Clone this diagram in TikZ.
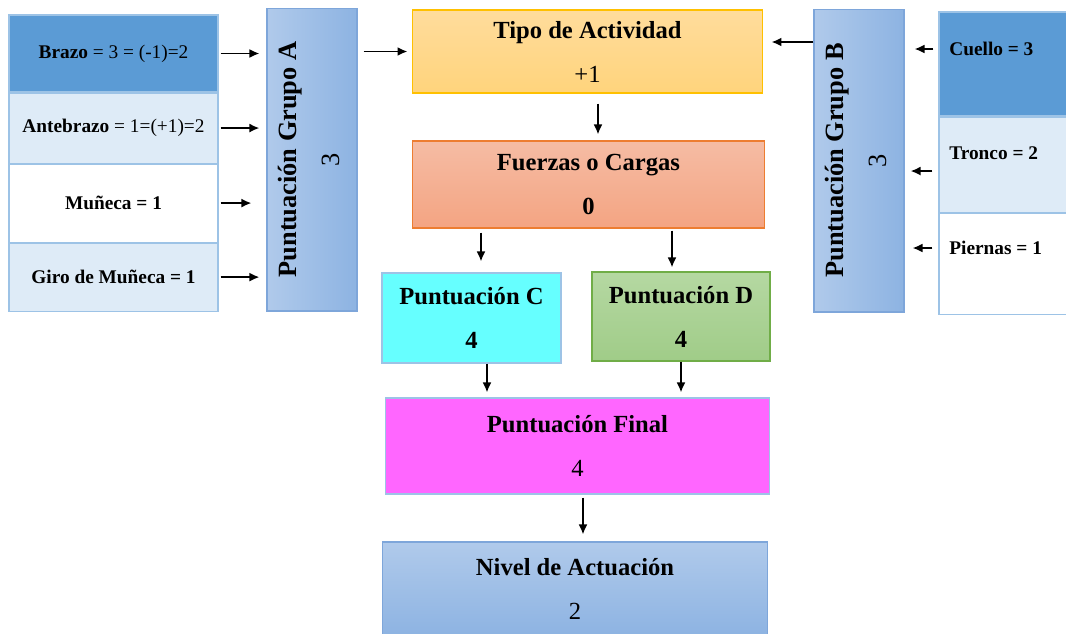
\documentclass[tikz,border=0pt]{standalone}
\usepackage{fontspec}
\setmainfont{Liberation Serif}
\usetikzlibrary{arrows.meta,positioning}
\definecolor{rowdark}{HTML}{5B9BD5}
\definecolor{rowlight}{HTML}{DEEBF7}
\definecolor{rowline}{HTML}{9DC3E6}
\definecolor{groupleft}{HTML}{B0CAEB}
\definecolor{groupright}{HTML}{8DB3E2}
\definecolor{groupline}{HTML}{7EA6DA}
\definecolor{tipotop}{HTML}{FFDC9C}
\definecolor{tipobot}{HTML}{FFD47C}
\definecolor{tipoline}{HTML}{FFC000}
\definecolor{fuerzatop}{HTML}{F5BCA4}
\definecolor{fuerzabot}{HTML}{F4A482}
\definecolor{fuerzaline}{HTML}{ED7D31}
\definecolor{cfill}{HTML}{66FFFF}
\definecolor{dtop}{HTML}{B5D8A2}
\definecolor{dbot}{HTML}{A0CC88}
\definecolor{dline}{HTML}{70AD47}
\definecolor{finalfill}{HTML}{FF66FF}

\begin{document}
\begin{tikzpicture}[
    x=0.02cm, y=-0.02cm,
    every node/.style={font=\fontsize{14}{25}\selectfont},
    row/.style={draw=rowline, line width=0.6pt, minimum width=4.18cm, align=center, inner sep=0pt, font=\fontsize{11}{13}\selectfont},
    rrow/.style={draw=rowline, line width=0.6pt, minimum width=2.62cm, inner sep=0pt},
    rlabel/.style={anchor=west, inner sep=0pt, font=\fontsize{11}{13}\selectfont\bfseries},
    group/.style={draw=groupline, line width=0.6pt, left color=groupleft, right color=groupright, minimum width=1.8cm, minimum height=6.06cm},
    grouptext/.style={rotate=90, align=center, font=\fontsize{15}{24}\selectfont},
    stage/.style={draw, line width=0.6pt, align=center, inner sep=0pt},
    flow/.style={-{Latex[length=2mm,width=1.8mm]}, line width=1.1pt}
]
\path[use as bounding box, fill=white] (0,0) rectangle (1066,633);

% left block
\node[row, fill=rowdark, minimum height=1.54cm] (brazo) at (113.5,53.5) {\textbf{Brazo} = 3 = (-1)=2};
\node[row, fill=rowlight, minimum height=1.40cm, below=0pt of brazo] (antebrazo) {\textbf{Antebrazo} = 1=(+1)=2};
\node[row, fill=white, minimum height=1.56cm, below=0pt of antebrazo] (muneca) {\textbf{Muñeca = 1}};
\node[row, fill=rowlight, minimum height=1.36cm, below=0pt of muneca] (giro) {\textbf{Giro de Muñeca = 1}};

\node[group] (grupoA) at (312,159.5) {};
\node[grouptext] (grupoAtext) at ([xshift=-0.06cm]grupoA.center) {\textbf{Puntuación Grupo A}\\3};

% right block
\node[rrow, fill=rowdark, minimum height=2.08cm] (cuello) at (1004.5,64) {};
\node[rrow, fill=rowlight, minimum height=1.90cm, below=0pt of cuello] (tronco) {};
\node[rrow, fill=white, minimum height=2.02cm, below=0pt of tronco] (piernas) {};
\node[rlabel] (cuellolbl) at (949,49) {Cuello = 3};
\node[rlabel] (troncolbl) at (949,153) {Tronco = 2};
\node[rlabel] (piernaslbl) at (949,248) {Piernas = 1};

\node[group] (grupoB) at (859,160.5) {};
\node[grouptext] (grupoBtext) at ([xshift=-0.06cm]grupoB.center) {\textbf{Puntuación Grupo B}\\3};

% middle column
\node[stage, draw=tipoline, top color=tipotop, bottom color=tipobot, minimum width=7.02cm, minimum height=1.66cm] (tipo) at (587.5,51.5) {\textbf{Tipo de Actividad}\\+1};
\node[stage, draw=fuerzaline, top color=fuerzatop, bottom color=fuerzabot, minimum width=7.06cm, minimum height=1.74cm] (fuerzas) at (588.5,184.5) {\textbf{Fuerzas o Cargas}\\\textbf{0}};
\node[stage, draw=rowline, fill=cfill, minimum width=3.58cm, minimum height=1.80cm] (puntC) at (471.5,318) {\textbf{Puntuación C}\\\textbf{4}};
\node[stage, draw=dline, top color=dtop, bottom color=dbot, minimum width=3.56cm, minimum height=1.78cm] (puntD) at (681,316.5) {\textbf{Puntuación D}\\\textbf{4}};
\node[stage, draw=rowline, fill=finalfill, minimum width=7.70cm, minimum height=1.92cm] (final) at (577.5,446) {\textbf{Puntuación Final}\\4};
\node[stage, draw=groupline, top color=groupleft, bottom color=groupright, minimum width=7.72cm, minimum height=1.88cm] (nivel) at (575,589) {\textbf{Nivel de Actuación}\\2};

\draw[flow, shorten <=0.04cm, shorten >=0.14cm] (brazo.east) -- (brazo.east -| grupoA.west);
\draw[flow, shorten <=0.04cm, shorten >=0.14cm] (antebrazo.east) -- (antebrazo.east -| grupoA.west);
\draw[flow, shorten <=0.04cm, shorten >=0.30cm] (muneca.east) -- (muneca.east -| grupoA.west);
\draw[flow, shorten <=0.04cm, shorten >=0.14cm] (giro.east) -- (giro.east -| grupoA.west);
\draw[flow, shorten <=0.12cm, shorten >=0.08cm] (grupoA.east |- tipo.west) -- (tipo.west);
\draw[flow, shorten >=0.16cm] ([yshift=0.19cm]tipo.east -| grupoB.west) -- ([yshift=0.19cm]tipo.east);
\draw[flow, shorten <=0.10cm, shorten >=0.20cm] (cuello.west |- cuellolbl) -- (grupoB.east |- cuellolbl);
\draw[flow, shorten <=0.12cm, shorten >=0.12cm] ([yshift=-0.13cm]tronco.west) -- ([yshift=-0.13cm]tronco.west -| grupoB.east);
\draw[flow, shorten <=0.12cm, shorten >=0.16cm] (piernas.west |- piernaslbl) -- (grupoB.east |- piernaslbl);
\draw[flow, shorten <=0.20cm, shorten >=0.12cm] ([xshift=0.21cm]tipo.south) -- ([xshift=0.21cm]tipo.south |- fuerzas.north);
\draw[flow, shorten <=0.08cm, shorten >=0.22cm] ([xshift=0.19cm]puntC.north |- fuerzas.south) -- ([xshift=0.19cm]puntC.north);
\draw[flow, shorten <=0.04cm, shorten >=0.08cm] ([xshift=-0.18cm]puntD.north |- fuerzas.south) -- ([xshift=-0.18cm]puntD.north);
\draw[flow, shorten >=0.10cm] ([xshift=0.31cm]puntC.south) -- ([xshift=0.31cm]puntC.south |- final.north);
\draw[flow, shorten >=0.10cm] (puntD.south) -- (puntD.south |- final.north);
\draw[flow, shorten <=0.06cm, shorten >=0.14cm] ([xshift=0.11cm]final.south) -- ([xshift=0.11cm]final.south |- nivel.north);
\end{tikzpicture}
\end{document}
